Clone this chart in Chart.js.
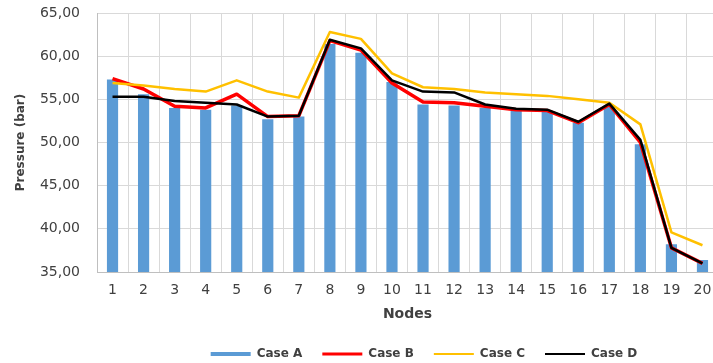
<!DOCTYPE html>
<html>
<head>
<meta charset="utf-8">
<script src="https://cdn.jsdelivr.net/npm/chart.js@4"></script>
<style>
  html, body { margin: 0; padding: 0; background: #ffffff; overflow: hidden; }
  #wrap { position: relative; width: 720px; height: 363px; }
</style>
</head>
<body>
<div id="wrap"><canvas id="c"></canvas></div>
<script>
// Node numbers along the pipeline
const nodes = ['1','2','3','4','5','6','7','8','9','10','11','12','13','14','15','16','17','18','19','20'];

// Pressure at each node (bar) for the four cases
const caseA = [57.3, 55.6, 54.0, 53.8, 54.3, 52.7, 53.0, 61.4, 60.4, 57.0, 54.4, 54.3, 54.0, 53.7, 53.6, 52.3, 54.3, 49.8, 38.2, 36.4];
const caseB = [57.4, 56.2, 54.2, 54.0, 55.6, 53.0, 53.1, 61.8, 60.7, 56.9, 54.7, 54.6, 54.2, 53.8, 53.7, 52.3, 54.4, 50.0, 37.8, 36.0];
const caseC = [56.9, 56.6, 56.2, 55.9, 57.2, 55.9, 55.2, 62.8, 62.0, 58.0, 56.4, 56.2, 55.8, 55.6, 55.4, 55.0, 54.6, 52.1, 39.6, 38.1];
const caseD = [55.3, 55.3, 54.8, 54.6, 54.4, 53.0, 53.1, 61.9, 60.9, 57.2, 55.9, 55.8, 54.4, 53.9, 53.8, 52.4, 54.5, 50.3, 37.8, 36.0];

// Pressure axis range
const yMin = 35, yMax = 65, yStep = 5;

const seriesNames = ['Case A', 'Case B', 'Case C', 'Case D'];
const legendWidths = [4, 3, 2, 2];

const FONT = 'DejaVu Sans';
const GRID = '#d9d9d9';

// Places the legend row under the axis title
const legendPlacer = {
  id: 'legendPlacer',
  afterInit(chart) {
    const lg = chart.legend;
    const origFit = lg.fit.bind(lg);
    lg.fit = function () { origFit(); this.height = 39; };
  },
  afterLayout(chart) {
    const lg = chart.legend;
    const dx = 424 - (lg.left + lg.right) / 2;
    lg.left += dx; lg.right += dx;
    lg.top += 4; lg.bottom += 4;
  }
};

new Chart(document.getElementById('c'), {
  type: 'bar',
  data: {
    labels: nodes,
    datasets: [
      { type: 'bar', label: seriesNames[0], data: caseA, backgroundColor: '#5b9bd5', borderWidth: 0,
        barPercentage: 0.36, categoryPercentage: 1.0, order: 4 },
      { type: 'line', label: seriesNames[1], data: caseB, borderColor: '#ff0000', backgroundColor: '#ff0000',
        borderWidth: 3.5, pointRadius: 0, tension: 0, borderJoinStyle: 'round', order: 3 },
      { type: 'line', label: seriesNames[2], data: caseC, borderColor: '#ffc000', backgroundColor: '#ffc000',
        borderWidth: 2.5, pointRadius: 0, tension: 0, borderJoinStyle: 'round', order: 2 },
      { type: 'line', label: seriesNames[3], data: caseD, borderColor: '#000000', backgroundColor: '#000000',
        borderWidth: 2.5, pointRadius: 0, tension: 0, borderJoinStyle: 'round', order: 1 }
    ]
  },
  options: {
    responsive: true,
    maintainAspectRatio: false,
    animation: false,
    devicePixelRatio: 1,
    layout: { padding: { top: 13, left: 0, right: 2, bottom: 0 } },
    plugins: {
      tooltip: { enabled: false },
      legend: {
        position: 'bottom',
        labels: {
          usePointStyle: true,
          pointStyleWidth: 40,
          boxHeight: 12,
          padding: 20,
          color: '#404040',
          font: { family: FONT, size: 12, weight: 'bold' },
          sort: (a, b) => a.datasetIndex - b.datasetIndex,
          generateLabels(chart) {
            return chart.data.datasets.map((ds, i) => ({
              text: ds.label,
              datasetIndex: i,
              pointStyle: 'line',
              lineWidth: legendWidths[i],
              strokeStyle: ds.type === 'bar' ? ds.backgroundColor : ds.borderColor,
              fillStyle: ds.type === 'bar' ? ds.backgroundColor : ds.borderColor,
              fontColor: '#404040',
              hidden: false
            }));
          }
        }
      }
    },
    scales: {
      x: {
        offset: true,
        grid: { display: true, offset: true, color: GRID, lineWidth: 1, drawTicks: false },
        border: { display: true, color: '#bfbfbf' },
        ticks: { color: '#404040', padding: 10, font: { family: FONT, size: 14 }, maxRotation: 0, autoSkip: false },
        title: { display: true, text: 'Nodes', color: '#404040', font: { family: FONT, size: 14, weight: 'bold' },
                 padding: { top: 4, bottom: 1 } },
        afterFit(scale) { scale.height = 52; scale.paddingLeft = 0; scale.paddingRight = 0; }
      },
      y: {
        min: yMin,
        max: yMax,
        grid: { color: GRID, lineWidth: 1, drawTicks: false },
        border: { display: true, color: '#bfbfbf' },
        ticks: {
          stepSize: yStep,
          padding: 17,
          color: '#404040',
          font: { family: FONT, size: 14 },
          callback: v => v.toFixed(2).replace('.', ',')
        },
        title: { display: true, text: 'Pressure (bar)', color: '#404040', font: { family: FONT, size: 12, weight: 'bold' },
                 padding: { top: 14, bottom: 0 } },
        afterFit(scale) { scale.width = 97; scale.paddingTop = 8; scale.paddingBottom = 8; }
      }
    }
  },
  plugins: [legendPlacer]
});
</script>
</body>
</html>
